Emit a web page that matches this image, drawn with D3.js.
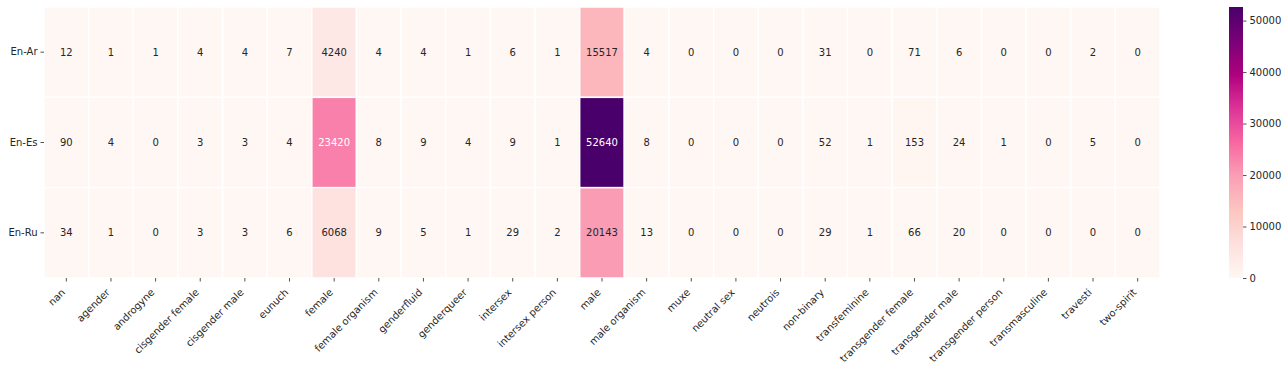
<!DOCTYPE html>
<html><head><meta charset="utf-8">
<script src="https://cdn.jsdelivr.net/npm/d3@7"></script>
<style>body{margin:0;background:#fff;} svg{display:block;} text{font-family:"DejaVu Sans",sans-serif;}</style>
</head><body><svg id="c" width="1288" height="370"></svg>
<script>
const rows = ["En-Ar","En-Es","En-Ru"];
const cols = ["nan","agender","androgyne","cisgender female","cisgender male","eunuch","female","female organism","genderfluid","genderqueer","intersex","intersex person","male","male organism","muxe","neutral sex","neutrois","non-binary","transfeminine","transgender female","transgender male","transgender person","transmasculine","travesti","two-spirit"];
const enAr = [12,1,1,4,4,7,4240,4,4,1,6,1,15517,4,0,0,0,31,0,71,6,0,0,2,0];
const enEs = [90,4,0,3,3,4,23420,8,9,4,9,1,52640,8,0,0,0,52,1,153,24,1,0,5,0];
const enRu = [34,1,0,3,3,6,6068,9,5,1,29,2,20143,13,0,0,0,29,1,66,20,0,0,0,0];
const values = [enAr, enEs, enRu];
const cbTicks = [0,10000,20000,30000,40000,50000];
const brewer = ["#fff7f3","#fde0dd","#fcc5c0","#fa9fb5","#f768a1","#dd3497","#ae017e","#7a0177","#49006a"];

const svg = d3.select("#c");
const L=44, R=1160, T=7, B=278;
const x = d3.scaleBand().domain(cols).range([L,R]);
const y = d3.scaleBand().domain(rows).range([T,B]);
const vmax = d3.max(values.flat());
const cmap = d3.scaleLinear().domain(d3.range(9).map(i=>i/8)).range(brewer).interpolate(d3.interpolateRgb);
const color = v => cmap(v/vmax);

const cells = [];
values.forEach((arr,i)=>arr.forEach((v,j)=>cells.push({r:rows[i],c:cols[j],v})));
const g = svg.append("g");
g.selectAll("rect").data(cells).join("rect")
  .attr("x",d=>x(d.c)).attr("y",d=>y(d.r))
  .attr("width",x.bandwidth()).attr("height",y.bandwidth())
  .attr("fill",d=>color(d.v)).attr("stroke","#fff").attr("stroke-width",1.5);
function lum(c){const o=d3.rgb(c);const f=v=>{v/=255;return v<=0.03928?v/12.92:Math.pow((v+0.055)/1.055,2.4);};return 0.2126*f(o.r)+0.7152*f(o.g)+0.0722*f(o.b);}
g.selectAll("text").data(cells).join("text")
  .attr("x",d=>x(d.c)+x.bandwidth()/2).attr("y",d=>y(d.r)+y.bandwidth()/2)
  .attr("text-anchor","middle").attr("dominant-baseline","central")
  .attr("font-size","10px")
  .attr("fill",d=>lum(color(d.v))>0.408?"#262626":"#fff")
  .text(d=>d.v);

// x axis
const xa = svg.append("g").attr("transform",`translate(0,${B})`)
  .call(d3.axisBottom(x).tickSize(3.5).tickPadding(3));
xa.select(".domain").remove();
xa.selectAll(".tick line").attr("stroke","#262626").attr("stroke-width",0.8);
xa.selectAll(".tick text").attr("font-size","10px").attr("fill","#262626")
  .attr("x",0).attr("y",0).attr("dy",null)
  .attr("text-anchor","end").attr("dominant-baseline","central")
  .attr("transform","translate(-3,12.5) rotate(-45)");
// y axis
const ya = svg.append("g").attr("transform",`translate(${L},0)`)
  .call(d3.axisLeft(y).tickSize(3.5).tickPadding(3));
ya.select(".domain").remove();
ya.selectAll(".tick line").attr("stroke","#262626").attr("stroke-width",0.8);
ya.selectAll(".tick text").attr("font-size","10px").attr("fill","#262626");

// colorbar
const cbL=1229, cbW=14;
const cy = d3.scaleLinear().domain([0,vmax]).range([B,T]);
const defs = svg.append("defs");
const grad = defs.append("linearGradient").attr("id","gr").attr("x1",0).attr("y1",1).attr("x2",0).attr("y2",0);
brewer.forEach((c,i)=>grad.append("stop").attr("offset",i/8).attr("stop-color",c));
svg.append("rect").attr("x",cbL).attr("y",T).attr("width",cbW).attr("height",B-T).attr("fill","url(#gr)");
const ca = svg.append("g").attr("transform",`translate(${cbL+cbW},0)`)
  .call(d3.axisRight(cy).tickValues(cbTicks).tickFormat(d3.format("d")).tickSize(3.5).tickPadding(3));
ca.select(".domain").remove();
ca.selectAll(".tick line").attr("stroke","#262626").attr("stroke-width",0.8);
ca.selectAll(".tick text").attr("font-size","10px").attr("fill","#262626");
</script></body></html>
